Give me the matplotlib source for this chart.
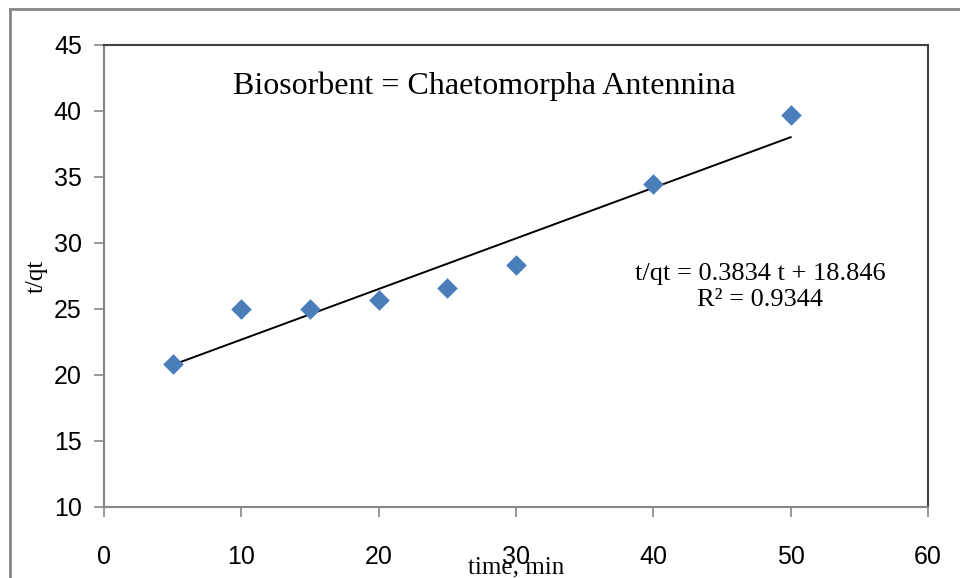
import numpy as np
import matplotlib.pyplot as plt
from matplotlib.lines import Line2D

# kinetic data: time (min) vs t/qt
time_min = [5, 10, 15, 20, 25, 30, 40, 50]
t_qt = [20.8, 25.0, 25.0, 25.7, 26.6, 28.3, 34.5, 39.7]

# pseudo-second-order fit as reported
slope = 0.3834
intercept = 18.846
r_squared = 0.9344

xticks = [0, 10, 20, 30, 40, 50, 60]
yticks = [10, 15, 20, 25, 30, 35, 40, 45]

fig = plt.figure(figsize=(9.6, 5.78), dpi=100)
ax = fig.add_axes([104 / 960, 1 - 507 / 578, 824 / 960, 462 / 578])

ax.scatter(time_min, t_qt, marker='D', s=110, color='#4a7ebb', zorder=3, linewidths=0)

fit_x = np.array([time_min[0], time_min[-1]])
ax.plot(fit_x, slope * fit_x + intercept, color='black', lw=1.4, zorder=2)

ax.set_xlim(0, 60)
ax.set_ylim(10, 45)
ax.set_xticks(xticks)
ax.set_yticks(yticks)
ax.tick_params(direction='out', length=7, width=1.2, color='#868686',
               labelsize=18, pad=9)
for lab in ax.get_xticklabels() + ax.get_yticklabels():
    lab.set_family(['Liberation Sans Narrow', 'Liberation Sans'])
ax.tick_params(axis='x', pad=20)

for side in ('left', 'bottom'):
    ax.spines[side].set_color('#868686')
    ax.spines[side].set_linewidth(1.5)
for side in ('top', 'right'):
    ax.spines[side].set_color('#404040')
    ax.spines[side].set_linewidth(1.5)

ax.set_ylabel('t/qt', family='Liberation Serif', fontsize=18, labelpad=4)
ax.set_xlabel('time, min', family='Liberation Serif', fontsize=18,
              labelpad=-9, fontstretch='condensed')

ax.text(0.1566, 0.911, 'Biosorbent = Chaetomorpha Antennina', transform=ax.transAxes,
        family='Liberation Serif', fontsize=23, va='center', ha='left')
ax.text(0.796, 0.476,
        f't/qt = {slope} t + {intercept}\nR² = {r_squared}',
        transform=ax.transAxes, family='Liberation Serif', fontsize=19,
        ha='center', va='center', linespacing=1.2)

# outer chart border
fig.add_artist(Line2D([10 / 960, 1], [1 - 9 / 578] * 2, color='#868686', lw=2,
                      transform=fig.transFigure))
fig.add_artist(Line2D([10 / 960] * 2, [0, 1 - 9 / 578], color='#868686', lw=2,
                      transform=fig.transFigure))

fig.savefig('out.png', dpi=100)
